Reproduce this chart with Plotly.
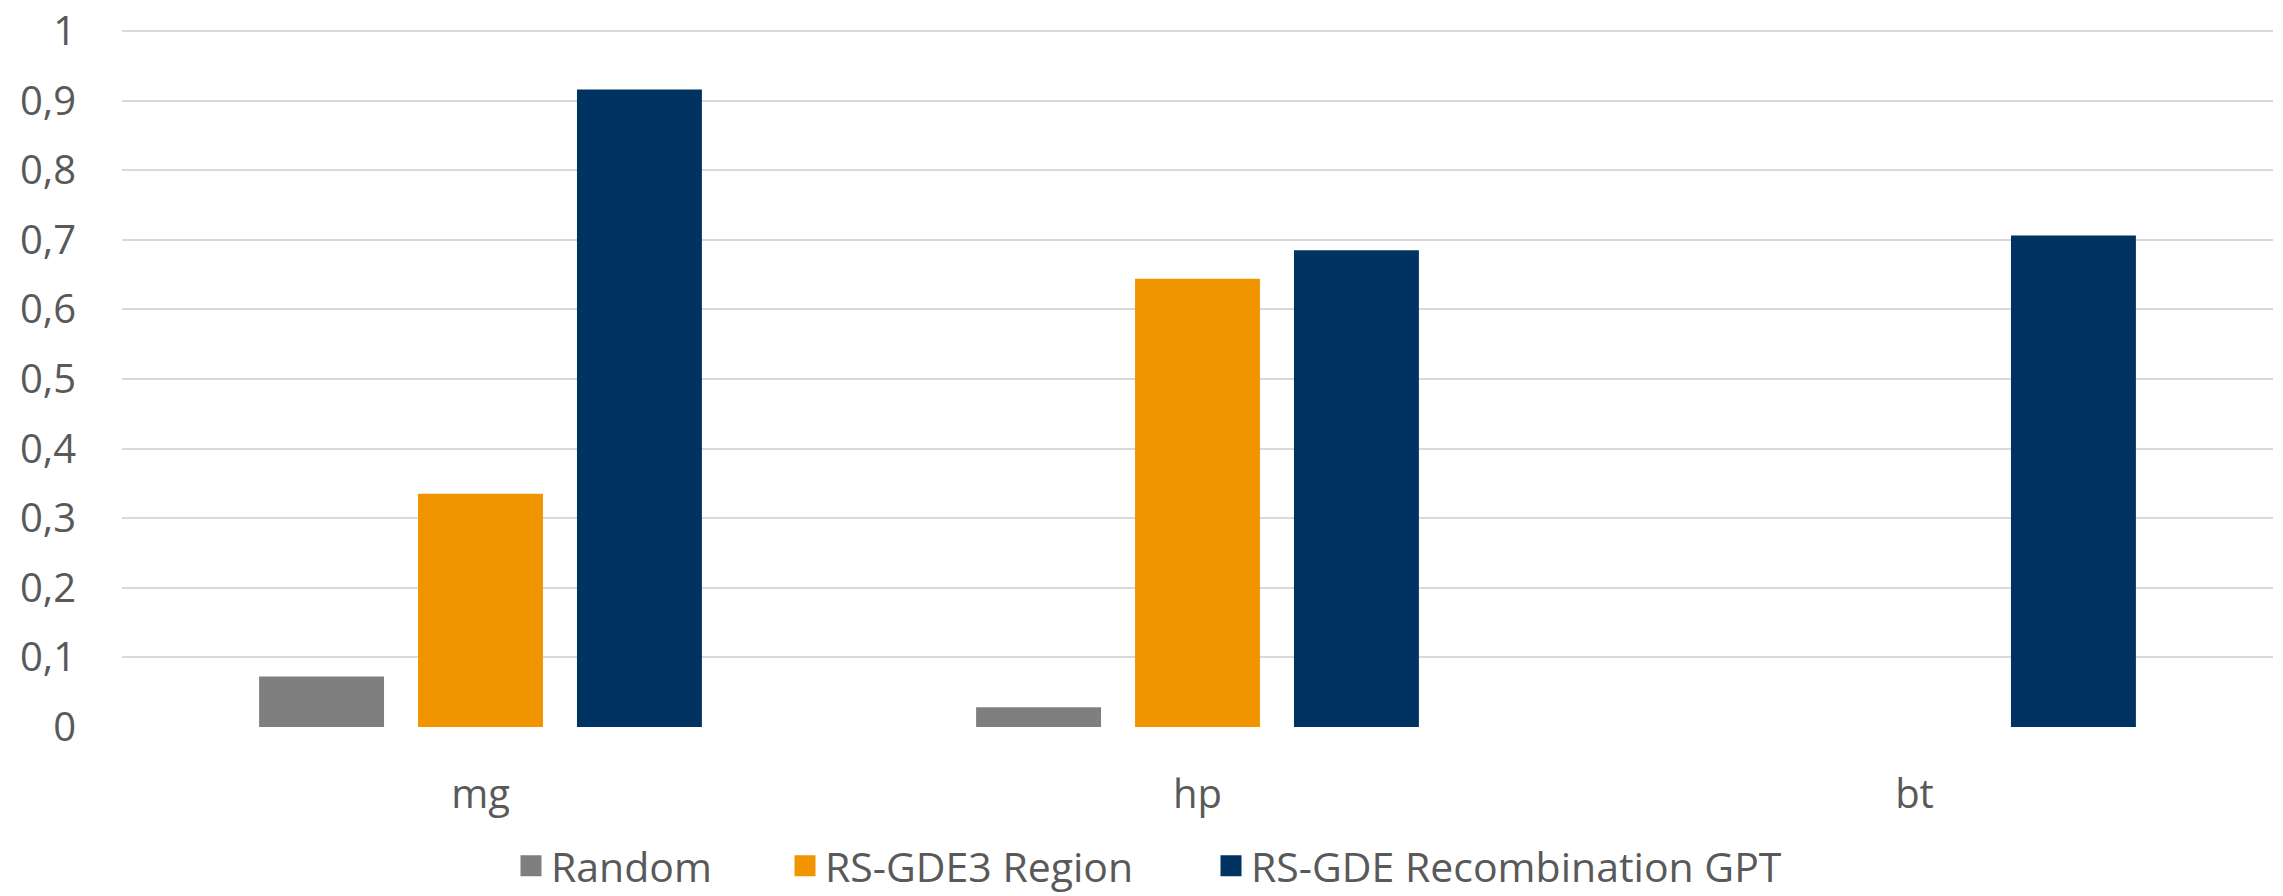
import plotly.graph_objects as go

categories = ["mg", "hp", "bt"]
series_names = ["Random", "RS-GDE3 Region", "RS-GDE Recombination GPT"]
random_vals = [0.0725, 0.0285, 0.0]
region_vals = [0.335, 0.644, 0.0]
gpt_vals = [0.916, 0.685, 0.706]
colors = ["#7F7F7F", "#F09400", "#003361"]
y_ticks = [0, 0.1, 0.2, 0.3, 0.4, 0.5, 0.6, 0.7, 0.8, 0.9, 1]

W, H = 2283, 896
legend_ids = ["legend", "legend2", "legend3"]
legend_left_px = [511, 785, 1211]

fig = go.Figure()
for name, vals, col in zip(series_names, [random_vals, region_vals, gpt_vals], colors):
    fig.add_trace(go.Bar(x=categories, y=vals, name=name, legendgroup=name, showlegend=False,
                         marker=dict(color=col, line=dict(width=0))))
# legend entries with larger square symbols, one legend box per entry
for name, col, lid in zip(series_names, colors, legend_ids):
    fig.add_trace(go.Scatter(x=[None], y=[None], mode="markers", name=name, legendgroup=name,
                             legend=lid,
                             marker=dict(symbol="square", size=16, color=col,
                                         line=dict(color=col, width=5))))

font = dict(family="Open Sans", size=40, color="#595959")
legend_font = dict(family="Open Sans", size=41, color="#595959")
layout_legends = {}
for lid, px in zip(legend_ids, legend_left_px):
    layout_legends[lid] = dict(orientation="h", xref="container", yref="container",
                               x=px / W, xanchor="left", y=1 - 866 / H, yanchor="middle",
                               font=legend_font, itemwidth=30, bgcolor="rgba(0,0,0,0)")

fig.update_layout(
    width=W, height=H,
    margin=dict(l=122, r=10, t=24, b=169, autoexpand=False),
    paper_bgcolor="white", plot_bgcolor="white",
    barmode="group", bargap=0.335, bargroupgap=0.214,
    separators=", ",
    font=font,
    showlegend=True,
    xaxis=dict(showgrid=False, showline=False, ticks="", tickfont=font, ticklabelstandoff=40),
    yaxis=dict(range=[0, 1.01], tickvals=y_ticks, showgrid=True, gridcolor="#D9D9D9", gridwidth=2,
               zeroline=False, showline=False, ticks="", tickfont=font, ticklabelstandoff=45,
               ticklabeloverflow="allow"),
    **layout_legends,
)
fig.write_html("out.html")
